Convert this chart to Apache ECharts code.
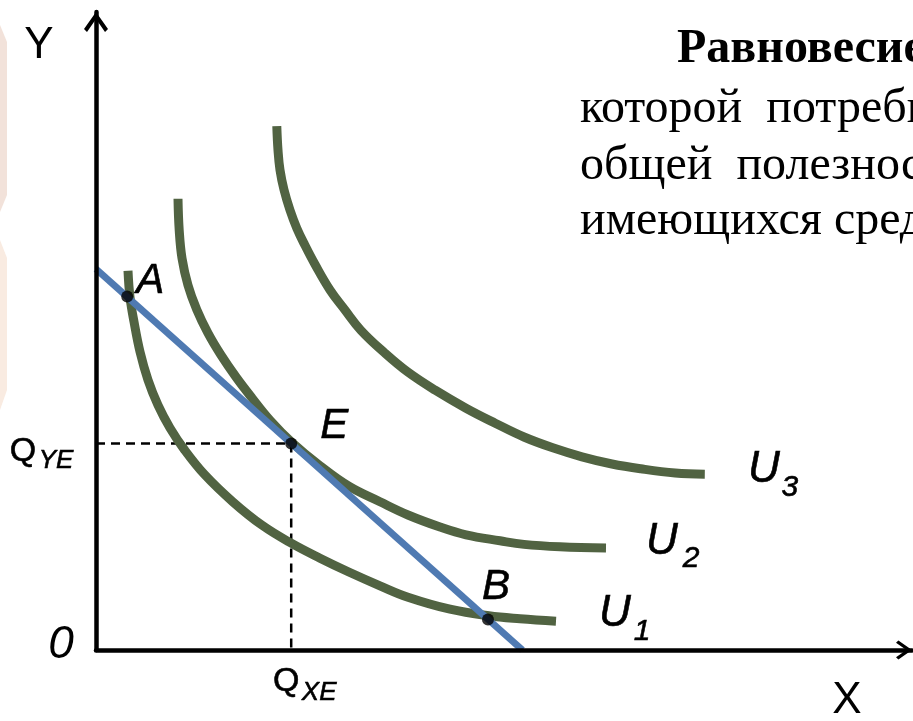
<!DOCTYPE html>
<html><head><meta charset="utf-8">
<script src="https://cdn.jsdelivr.net/npm/echarts@6/dist/echarts.min.js"></script>
<style>html,body{margin:0;padding:0;background:#fff}#c{width:913px;height:721px}</style>
</head><body><div id="c"></div>
<script>
// Indifference curves
const curveU1 = [[4.0,63.2],[4.25,58.8],[4.75,54.7],[5.5,49.7],[6.5,45.0],[7.75,40.8],[9.25,37.0],[11.1,33.3],[13.6,29.2],[17.1,24.7],[20.75,20.8],[24.4,17.8],[28.0,15.3],[31.6,13.0],[35.5,10.7],[39.0,8.8],[44.25,6.8],[49.1,5.7],[53.0,5.2],[57.5,4.8]];
const curveU2 = [[10.25,75.2],[10.4,70.0],[10.75,65.3],[11.5,60.8],[12.6,56.7],[14.0,52.8],[15.6,49.2],[17.5,45.5],[19.5,42.0],[21.75,38.3],[24.4,34.7],[28.0,30.7],[31.6,27.3],[35.5,24.7],[39.0,22.5],[43.0,20.5],[46.25,19.2],[50.5,18.2],[53.5,17.6],[58.0,17.2],[63.75,17.0]];
const curveU3 = [[22.6,87.3],[22.75,83.3],[23.0,80.0],[23.5,76.7],[24.25,73.3],[25.1,70.3],[26.1,67.5],[27.4,64.2],[29.25,60.0],[31.1,56.7],[33.1,53.3],[36.1,49.5],[39.0,46.3],[42.4,43.3],[46.25,40.3],[49.9,37.8],[53.5,35.5],[57.1,33.7],[60.75,32.2],[64.5,31.0],[68.1,30.2],[72.4,29.5],[76.1,29.3]];
const curveLetters = ['U','U','U'];
const curveSubscripts = ['1','2','3'];
// Budget line
const budgetLine = [[0,63.5],[53.3,0]];
// Marked points
const pointNames = ['A','E','B'];
const pointValues = [[3.9,58.9],[24.4,34.4],[49.0,5.1]];
// Axis texts
const axisNameX = 'X';
const axisNameY = 'Y';
const originLabel = '0';
const qLetters = ['Q','Q'];
const qSubscripts = ['YE','XE'];
// Slide text
const paragraphLines = ['Равновесие потребителя', 'которой  потребитель', 'общей  полезности', 'имеющихся средств'];

const GREEN = '#516342', BLUE = '#4f7ab2';
const SANS = '"Liberation Sans", Arial, sans-serif';
const SERIF = '"Liberation Serif", "Times New Roman", serif';

const chart = echarts.init(document.getElementById('c'), null, {renderer: 'canvas'});
const E = pointValues[1];
const curves = [curveU1, curveU2, curveU3];
const uOffsets = [[59,-7],[56,-6],[59,-4]];
const uSubOffsets = [[86,10],[85,11],[85,13]];
const pointOffsets = [[23,-15],[43,-17],[8,-32]];
const qAnchors = [[0, E[1]], [E[0], 0]];
const qOffsets = [[-73,8],[-5,32]];
const qSubOffsets = [[-40,17],[28,43]];

const arrowUp = 'path://M12,0 L24,17 L21,20 L12,7 L3,20 L0,17 Z';

function labelSeries(anchors, texts, offsets, font) {
  return {
    type: 'scatter', symbolSize: 1, silent: true, z: 6,
    itemStyle: {color: 'rgba(0,0,0,0)'},
    data: anchors.map((v, i) => ({
      value: v,
      label: Object.assign({show: true, position: 'inside', offset: offsets[i], formatter: texts[i],
        color: '#000', opacity: 1, textBorderColor: '#000', textBorderWidth: 0.6, fontFamily: SANS}, font)
    }))
  };
}

const series = [];
curves.forEach((c) => {
  series.push({
    type: 'line', data: c, smooth: 0.4, showSymbol: false, silent: true, z: 2,
    lineStyle: {color: GREEN, width: 9, cap: 'butt'}
  });
});
series.push({
  type: 'line', data: budgetLine, showSymbol: false, silent: true, z: 3,
  lineStyle: {color: BLUE, width: 7}
});
series.push({
  type: 'line', data: [[0, E[1]], [E[0], E[1]], [E[0], 0]], showSymbol: false, silent: true, z: 1,
  lineStyle: {color: '#000', width: 2.5, type: [9, 6]}
});
series.push({
  type: 'scatter', symbolSize: 12, silent: true, z: 4,
  itemStyle: {color: '#000'},
  data: pointValues.map((v) => ({value: v}))
});
series.push(labelSeries(pointValues, pointNames, pointOffsets, {fontSize: 42, fontStyle: 'italic'}));
const ends = curves.map(c => c[c.length - 1]);
series.push(labelSeries(ends, curveLetters, uOffsets, {fontSize: 44, fontStyle: 'italic'}));
series.push(labelSeries(ends, curveSubscripts, uSubOffsets, {fontSize: 30, fontStyle: 'italic'}));
series.push(labelSeries(qAnchors, qLetters, qOffsets, {fontSize: 34}));
series.push(labelSeries(qAnchors, qSubscripts, qSubOffsets, {fontSize: 26, fontStyle: 'italic'}));

const graphics = [
  {type: 'polygon', shape: {points: [[0,25],[7,42],[7,195],[0,212]]}, style: {fill: '#f2e2da'}, z: -10, silent: true},
  {type: 'polygon', shape: {points: [[0,240],[7,258],[7,390],[0,410]]}, style: {fill: '#f9ebe1'}, z: -10, silent: true},
  {type: 'text', x: 39, y: 46, style: {text: axisNameY, font: '44px ' + SANS, fill: '#000', align: 'center', verticalAlign: 'middle'}},
  {type: 'text', x: 847, y: 701, style: {text: axisNameX, font: '44px ' + SANS, fill: '#000', align: 'center', verticalAlign: 'middle'}},
  {type: 'text', x: 61, y: 645, style: {text: originLabel, font: 'italic 46px ' + SANS, fill: '#000', align: 'center', verticalAlign: 'middle'}}
];
const paraX = [677, 580, 580, 580];
const paraY = [50, 109, 166, 221];
paragraphLines.forEach((t, i) => {
  graphics.push({type: 'text', x: paraX[i], y: paraY[i],
    style: {text: t, font: (i === 0 ? 'bold ' : '') + '48px ' + SERIF, fill: '#000', align: 'left', verticalAlign: 'middle'}});
});

chart.setOption({
  animation: false,
  backgroundColor: '#fff',
  grid: {left: 96, right: 1, top: 12, bottom: 71, outerBoundsMode: 'none', containLabel: false},
  xAxis: {type: 'value', min: 0, max: 102, z: 5,
    axisLine: {show: true, lineStyle: {color: '#000', width: 4.5}, symbol: ['none', arrowUp], symbolSize: [22, 16], symbolOffset: [0, -8]},
    axisTick: {show: false}, axisLabel: {show: false}, splitLine: {show: false}},
  yAxis: {type: 'value', min: 0, max: 106.33, z: 5,
    axisLine: {show: true, lineStyle: {color: '#000', width: 4.5}, symbol: ['none', arrowUp], symbolSize: [24, 20], symbolOffset: [0, -10]},
    axisTick: {show: false}, axisLabel: {show: false}, splitLine: {show: false}},
  series: series,
  graphic: graphics
});
</script></body></html>
